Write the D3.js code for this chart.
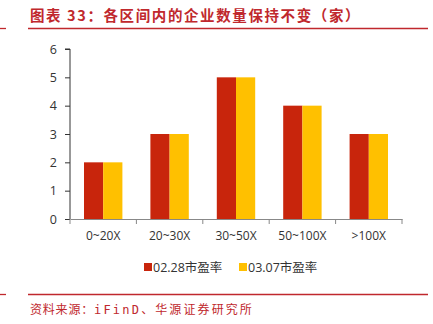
<!DOCTYPE html>
<html>
<head>
<meta charset="utf-8">
<script src="https://cdn.jsdelivr.net/npm/d3@7/dist/d3.min.js"></script>
<style>
  html, body { margin: 0; padding: 0; background: #fff; }
  svg { display: block; }
</style>
</head>
<body>
<script>
// PE-range buckets and company counts on the two dates
const categories = ["0~20X", "20~30X", "30~50X", "50~100X", ">100X"];
const seriesNames = ["02.28市盈率", "03.07市盈率"];
const pe0228 = [2, 3, 5, 4, 3];
const pe0307 = [2, 3, 5, 4, 3];
const yTicks = [0, 1, 2, 3, 4, 5, 6];
const titleText = "图表 33：各区间内的企业数量保持不变（家）";
const sourceParts = ["资料来源：", "iFinD", "、华源证券研究所"];

const W = 433, H = 324;
const colors = ["#c8250c", "#ffc000"];
const accent = "#c0282d";
const cjk = "'Noto Sans CJK SC', 'Noto Sans', sans-serif";

const svg = d3.select("body").append("svg").attr("width", W).attr("height", H);

// header
svg.append("text").attr("x", 30).attr("y", 21)
  .attr("font-family", cjk).attr("font-size", 14.5).attr("font-weight", 700)
  .attr("fill", accent).attr("letter-spacing", 1.6)
  .text(titleText);
svg.append("line").attr("x1", 28).attr("x2", 428).attr("y1", 28.5).attr("y2", 28.5)
  .attr("stroke", accent).attr("stroke-width", 1.3);
svg.append("line").attr("x1", 0).attr("x2", 6).attr("y1", 28.5).attr("y2", 28.5)
  .attr("stroke", accent).attr("stroke-width", 1.3);

// plot scales
const x = d3.scaleBand().domain(categories).range([70, 402]).paddingInner(0).paddingOuter(0);
const y = d3.scaleLinear().domain([0, 6]).range([219, 49]);
const inner = d3.scaleBand().domain(seriesNames).range([14, x.bandwidth() - 14]);

// y axis
const yAxis = svg.append("g").attr("transform", "translate(70,0)")
  .call(d3.axisLeft(y).tickValues(yTicks).tickFormat(d3.format("d")).tickSize(5).tickPadding(8));
yAxis.selectAll(".tick line").attr("stroke", "#333");
yAxis.selectAll("text").attr("font-family", "'Open Sans', sans-serif").attr("font-size", 12.5).attr("fill", "#333");
yAxis.select(".domain").attr("stroke", "#333").attr("d", `M-5,${y(6)}H0V${y(0)}`);

// bars
const data = [pe0228, pe0307];
data.forEach((vals, si) => {
  svg.append("g").selectAll("rect").data(vals).join("rect")
    .attr("x", (d, i) => x(categories[i]) + inner(seriesNames[si]))
    .attr("y", d => y(d))
    .attr("width", inner.bandwidth())
    .attr("height", d => y(0) - y(d))
    .attr("fill", colors[si]);
});

// x axis
const xAxis = svg.append("g").attr("transform", `translate(0,${y(0)})`)
  .call(d3.axisBottom(x).tickSize(0).tickPadding(12));
xAxis.select(".domain").attr("stroke", "#888").attr("stroke-width", 1.2);
xAxis.selectAll("text").attr("font-family", "'Open Sans', sans-serif").attr("font-size", 12).attr("fill", "#333");
// boundary ticks between categories
const bounds = categories.map(c => x(c)).concat([x.range()[1]]);
svg.append("g").selectAll("line").data(bounds).join("line")
  .attr("x1", d => d).attr("x2", d => d)
  .attr("y1", y(0)).attr("y2", y(0) + 5)
  .attr("stroke", "#888");

// legend
const legendX = [144, 239];
seriesNames.forEach((name, i) => {
  const g = svg.append("g").attr("transform", `translate(${legendX[i]},263)`);
  g.append("rect").attr("width", 8).attr("height", 8).attr("fill", colors[i]);
  g.append("text").attr("x", 9).attr("y", 8.5)
    .attr("font-family", "'Open Sans', " + cjk).attr("font-size", 12.5).attr("fill", "#333")
    .text(name);
});

// footer
svg.append("line").attr("x1", 28).attr("x2", 428).attr("y1", 294.5).attr("y2", 294.5)
  .attr("stroke", accent).attr("stroke-width", 1.3);
svg.append("line").attr("x1", 0).attr("x2", 6).attr("y1", 294.5).attr("y2", 294.5)
  .attr("stroke", accent).attr("stroke-width", 1.3);
const src = svg.append("text").attr("x", 30).attr("y", 313.5)
  .attr("font-size", 12).attr("fill", accent);
src.append("tspan").attr("font-family", cjk).attr("letter-spacing", 0.8).text(sourceParts[0]);
src.append("tspan").attr("font-family", "'DejaVu Sans Mono', monospace").attr("letter-spacing", 2.2).text(sourceParts[1]);
src.append("tspan").attr("font-family", cjk).attr("letter-spacing", 2.1).text(sourceParts[2]);
</script>
</body>
</html>
